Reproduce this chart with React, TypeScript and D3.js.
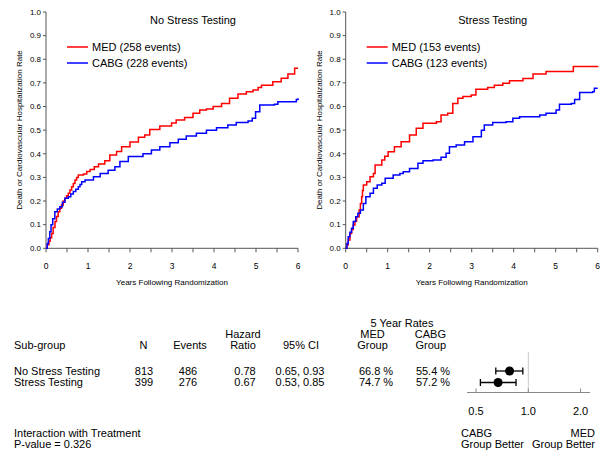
import React from "react";
import * as d3 from "d3";

// ---------- DATA ----------
const panelTitles = ["No Stress Testing", "Stress Testing"];
const legendLabels = [
  ["MED (258 events)", "CABG (228 events)"],
  ["MED (153 events)", "CABG (123 events)"],
];
// Kaplan-Meier style cumulative event rate: [years, rate]
const noStressMED: [number, number][] = [
  [0, 0], [0.03, 0.015], [0.07, 0.03], [0.1, 0.045], [0.135, 0.063], [0.17, 0.088],
  [0.214, 0.113], [0.25, 0.135], [0.29, 0.155], [0.33, 0.17], [0.37, 0.183], [0.41, 0.2],
  [0.45, 0.212], [0.49, 0.222], [0.53, 0.233], [0.57, 0.247], [0.61, 0.26], [0.65, 0.274],
  [0.69, 0.289], [0.73, 0.3], [0.77, 0.31], [0.89, 0.314], [0.97, 0.325], [1.05, 0.334],
  [1.15, 0.345], [1.25, 0.357], [1.4, 0.37], [1.52, 0.395],
  [1.68, 0.41], [1.8, 0.43], [2.0, 0.45], [2.2, 0.47], [2.35, 0.48], [2.47, 0.503],
  [2.71, 0.518], [2.99, 0.53], [3.1, 0.543], [3.3, 0.554], [3.5, 0.571], [3.66, 0.585],
  [3.82, 0.59], [3.98, 0.6], [4.18, 0.613], [4.37, 0.635], [4.57, 0.653], [4.77, 0.663],
  [4.93, 0.67], [5.05, 0.68], [5.13, 0.69], [5.4, 0.705], [5.6, 0.72], [5.76, 0.738],
  [5.92, 0.762], [6.0, 0.762],
];
const noStressCABG: [number, number][] = [
  [0, 0], [0.03, 0.02], [0.056, 0.042], [0.09, 0.07], [0.12, 0.1], [0.16, 0.125],
  [0.21, 0.155], [0.27, 0.166], [0.33, 0.176], [0.39, 0.195], [0.45, 0.212], [0.53, 0.218],
  [0.59, 0.23], [0.65, 0.24], [0.71, 0.25], [0.77, 0.26], [0.81, 0.27], [0.85, 0.282],
  [0.93, 0.289], [1.13, 0.303], [1.29, 0.317],
  [1.48, 0.33], [1.64, 0.345], [1.76, 0.367], [1.96, 0.388], [2.31, 0.4], [2.51, 0.416],
  [2.71, 0.43], [2.95, 0.447], [3.15, 0.461], [3.34, 0.475], [3.58, 0.487], [3.82, 0.5],
  [4.06, 0.51], [4.33, 0.522], [4.53, 0.532], [4.81, 0.539], [4.91, 0.55], [4.99, 0.578],
  [5.09, 0.606], [5.44, 0.61], [5.52, 0.62], [5.96, 0.63], [6.0, 0.635],
];
const stressMED: [number, number][] = [
  [0, 0], [0.03, 0.015], [0.06, 0.035], [0.1, 0.063], [0.14, 0.08], [0.18, 0.099],
  [0.22, 0.115], [0.26, 0.134], [0.32, 0.162], [0.35, 0.19], [0.38, 0.218], [0.4, 0.245],
  [0.42, 0.268], [0.5, 0.282], [0.58, 0.303], [0.66, 0.317], [0.7, 0.352], [0.86, 0.374],
  [0.93, 0.39], [1.01, 0.409], [1.16, 0.43], [1.32, 0.451],
  [1.52, 0.48], [1.68, 0.508], [1.84, 0.529], [2.16, 0.536], [2.27, 0.564], [2.43, 0.571],
  [2.55, 0.613], [2.67, 0.635], [2.79, 0.642], [2.99, 0.649], [3.1, 0.673], [3.38, 0.681],
  [3.54, 0.69], [3.74, 0.698], [3.9, 0.709], [4.22, 0.719], [4.46, 0.738], [4.77, 0.748],
  [5.42, 0.769], [6.0, 0.772],
];
const stressCABG: [number, number][] = [
  [0, 0], [0.03, 0.02], [0.06, 0.049], [0.1, 0.068], [0.14, 0.085], [0.18, 0.113],
  [0.24, 0.134], [0.29, 0.148], [0.35, 0.162], [0.42, 0.19], [0.48, 0.218], [0.58, 0.233],
  [0.66, 0.254], [0.75, 0.268], [0.86, 0.275], [0.94, 0.296], [1.13, 0.31], [1.29, 0.317],
  [1.37, 0.324],
  [1.52, 0.338], [1.72, 0.36], [1.84, 0.371], [2.08, 0.374], [2.27, 0.385], [2.39, 0.402],
  [2.47, 0.43], [2.63, 0.437], [2.83, 0.451], [3.03, 0.472], [3.23, 0.5], [3.3, 0.522],
  [3.5, 0.532], [3.82, 0.536], [3.98, 0.55], [4.14, 0.557], [4.62, 0.564], [4.77, 0.571],
  [5.01, 0.585], [5.09, 0.61], [5.37, 0.613], [5.45, 0.63], [5.57, 0.659], [5.88, 0.663],
  [5.92, 0.677], [6.0, 0.677],
];
const panelSeries = [
  [noStressMED, noStressCABG],
  [stressMED, stressCABG],
];
const seriesColors = ["#ff0000", "#0000ff"];
const yTicks = [0, 0.1, 0.2, 0.3, 0.4, 0.5, 0.6, 0.7, 0.8, 0.9, 1.0];
const xTicks = [0, 1, 2, 3, 4, 5, 6];
const xMinorTicks = [0, 0.5, 1, 1.5, 2, 2.5, 3, 3.5, 4, 4.5, 5, 5.5, 6];

// Table
const subgroups = ["No Stress Testing", "Stress Testing"];
const nValues = ["813", "399"];
const eventValues = ["486", "276"];
const hrValues = [0.78, 0.67];
const ciLow = [0.65, 0.53];
const ciHigh = [0.93, 0.85];
const medRates = ["66.8 %", "74.7 %"];
const cabgRates = ["55.4 %", "57.2 %"];
const forestTicks = [0.5, 1.0, 2.0];

const FONT = "'Liberation Sans', Arial, Helvetica, sans-serif";

function Panel({ idx, left }: { idx: number; left: number }) {
  const x = d3.scaleLinear().domain([0, 6]).range([left, left + 252]);
  const y = d3.scaleLinear().domain([0, 1]).range([248.3, 12]);
  const line = d3
    .line<[number, number]>()
    .x((d) => x(d[0]))
    .y((d) => y(d[1]))
    .curve(d3.curveStepAfter);
  const axisColor = "#555";
  return (
    <g>
      {/* axes */}
      <line x1={x(0)} x2={x(0)} y1={y(0)} y2={y(1)} stroke={axisColor} strokeWidth={1} />
      <line x1={x(0)} x2={x(6)} y1={y(0)} y2={y(0)} stroke={axisColor} strokeWidth={1} />
      {yTicks.map((t) => (
        <g key={"y" + t}>
          <line x1={x(0) - 3} x2={x(0)} y1={y(t)} y2={y(t)} stroke={axisColor} />
          <text x={x(0) - 5} y={y(t)} dy="0.35em" textAnchor="end" fontSize={8} fill="#000">
            {t.toFixed(1)}
          </text>
        </g>
      ))}
      {xMinorTicks.map((t) => (
        <line key={"xm" + t} x1={x(t)} x2={x(t)} y1={y(0)} y2={y(0) + 4} stroke={axisColor} />
      ))}
      {xTicks.map((t) => (
        <text key={"x" + t} x={x(t)} y={269} textAnchor="middle" fontSize={8.5} fill="#000">
          {t}
        </text>
      ))}
      <text x={(x(0) + x(6)) / 2} y={285} textAnchor="middle" fontSize={8} fill="#000">
        Years Following Randomization
      </text>
      <text
        transform={`translate(${left - 27},130) rotate(-90)`}
        textAnchor="middle"
        dy="0.35em"
        fontSize={8}
        fill="#000"
      >
        Death or Cardiovascular Hospitalization Rate
      </text>
      <text x={left + 147} y={24} textAnchor="middle" fontSize={11} fill="#000">
        {panelTitles[idx]}
      </text>
      {/* legend */}
      {legendLabels[idx].map((lab, i) => (
        <g key={lab}>
          <line
            x1={left + 21}
            x2={left + 42}
            y1={47 + i * 16}
            y2={47 + i * 16}
            stroke={seriesColors[i]}
            strokeWidth={1.5}
          />
          <text x={left + 46} y={47 + i * 16} dy="0.35em" fontSize={11} fill="#000">
            {lab}
          </text>
        </g>
      ))}
      {/* curves */}
      {panelSeries[idx].map((s, i) => (
        <path key={i} d={line(s) || ""} fill="none" stroke={seriesColors[i]} strokeWidth={1.5} />
      ))}
    </g>
  );
}

export default function App() {
  const fx = d3.scaleLog().domain([0.5, 2]).range([476, 580.6]);
  const rowY = [371, 382.5];
  const axisY = 392.5;
  return (
    <svg
      width={609}
      height={460}
      style={{ position: "absolute", left: 0, top: 0, background: "#fff" }}
      fontFamily={FONT}
    >
      <rect width={609} height={460} fill="#fff" />
      <Panel idx={0} left={46} />
      <Panel idx={1} left={345.7} />

      {/* table header */}
      <g fontSize={11} fill="#000">
        <text x={402} y={327} textAnchor="middle">5 Year Rates</text>
        <text x={243} y={337.5} textAnchor="middle">Hazard</text>
        <text x={372.5} y={337.5} textAnchor="middle">MED</text>
        <text x={446} y={337.5} textAnchor="end">CABG</text>
        <text x={14} y={349} textAnchor="start">Sub-group</text>
        <text x={143.5} y={349} textAnchor="middle">N</text>
        <text x={190} y={349} textAnchor="middle">Events</text>
        <text x={243} y={349} textAnchor="middle">Ratio</text>
        <text x={301} y={349} textAnchor="middle">95% CI</text>
        <text x={372.5} y={349} textAnchor="middle">Group</text>
        <text x={446} y={349} textAnchor="end">Group</text>
      </g>

      {/* table rows */}
      <g fontSize={11} fill="#000">
        {subgroups.map((s, i) => (
          <g key={s}>
            <text x={14} y={rowY[i]} dy="0.35em">{s}</text>
            <text x={144} y={rowY[i]} dy="0.35em" textAnchor="middle">{nValues[i]}</text>
            <text x={188} y={rowY[i]} dy="0.35em" textAnchor="middle">{eventValues[i]}</text>
            <text x={245} y={rowY[i]} dy="0.35em" textAnchor="middle">{hrValues[i].toFixed(2)}</text>
            <text x={300} y={rowY[i]} dy="0.35em" textAnchor="middle">
              {ciLow[i].toFixed(2) + ", " + ciHigh[i].toFixed(2)}
            </text>
            <text x={376} y={rowY[i]} dy="0.35em" textAnchor="middle">{medRates[i]}</text>
            <text x={433} y={rowY[i]} dy="0.35em" textAnchor="middle">{cabgRates[i]}</text>
          </g>
        ))}
      </g>

      {/* forest plot */}
      <line x1={fx(1)} x2={fx(1)} y1={352} y2={axisY} stroke="#c8c8c8" strokeWidth={1} />
      <line x1={467} x2={590} y1={axisY} y2={axisY} stroke="#888" strokeWidth={1} />
      {forestTicks.map((t) => (
        <g key={t}>
          <line x1={fx(t)} x2={fx(t)} y1={axisY} y2={axisY - 4} stroke="#888" />
          <text x={fx(t)} y={411.5} dy="0.35em" textAnchor="middle" fontSize={11} fill="#000">
            {t.toFixed(1)}
          </text>
        </g>
      ))}
      {subgroups.map((s, i) => (
        <g key={"f" + s} stroke="#000" strokeWidth={1.3}>
          <line x1={fx(ciLow[i])} x2={fx(ciHigh[i])} y1={rowY[i]} y2={rowY[i]} />
          <line x1={fx(ciLow[i])} x2={fx(ciLow[i])} y1={rowY[i] - 3.5} y2={rowY[i] + 3.5} />
          <line x1={fx(ciHigh[i])} x2={fx(ciHigh[i])} y1={rowY[i] - 3.5} y2={rowY[i] + 3.5} />
          <circle cx={fx(hrValues[i])} cy={rowY[i]} r={4.5} fill="#000" stroke="none" />
        </g>
      ))}
      <g fontSize={11} fill="#000">
        <text x={461} y={433} dy="0.35em">CABG</text>
        <text x={461} y={444.5} dy="0.35em">Group Better</text>
        <text x={595} y={433} dy="0.35em" textAnchor="end">MED</text>
        <text x={595} y={444.5} dy="0.35em" textAnchor="end">Group Better</text>
        <text x={14} y={433} dy="0.35em">Interaction with Treatment</text>
        <text x={14} y={444.5} dy="0.35em">P-value = 0.326</text>
      </g>
    </svg>
  );
}
